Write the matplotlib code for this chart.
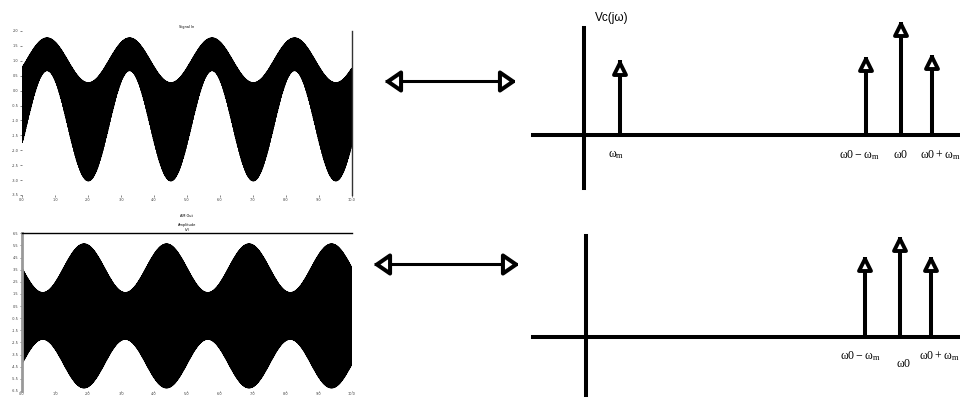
import numpy as np
import matplotlib.pyplot as plt
from matplotlib.markers import MarkerStyle
from matplotlib.path import Path
from matplotlib.transforms import offset_copy, Affine2D

W, H = 960, 398

# scope traces: time axis and tick values
t_ticks = np.arange(0, 11, 1)
top_yticks = np.arange(-3.5, 2.01, 0.5)
bot_yticks = np.arange(-6.5, 6.51, 1.0)

f_mod = 0.4      # modulating tone
f_car = 60.0     # carrier

# upper trace: tone plus modulated carrier
top_tone_amp = 1.3
top_car_amp = 1.1
top_mod_index = -0.5
top_phase = 0.76
top_dc = -0.08

# lower trace: modulated carrier only
bot_car_amp = 3.94
bot_mod_index = 0.51
bot_phase = 1.88
bot_dc = -0.31

# line spectra
top_freqs = [1.0, 7.83, 8.8, 9.66]
top_amps = [0.66, 0.69, 1.0, 0.71]
top_labels = [r'$\mathregular{ω_m}$', r'$\mathregular{ω0 - ω_m}$',
              r'$\mathregular{ω0}$', r'$\mathregular{ω0 + ω_m}$']
bot_freqs = [7.75, 8.72, 9.58]
bot_amps = [0.71, 0.885, 0.71]
bot_labels = [r'$\mathregular{ω0 - ω_m}$', r'$\mathregular{ω0}$',
              r'$\mathregular{ω0 + ω_m}$']

fig = plt.figure(figsize=(W / 100, H / 100), dpi=100)


def px_axes(x0, y0, x1, y1):
    return fig.add_axes([x0 / W, 1 - y1 / H, (x1 - x0) / W, (y1 - y0) / H])


def style_scope(ax, yticks):
    ax.set_xlim(0, 10)
    ax.set_ylim(yticks[0], yticks[-1])
    ax.set_xticks(t_ticks)
    ax.set_xticklabels(['%.1f' % v for v in t_ticks])
    ax.set_yticks(yticks)
    ax.set_yticklabels(['%.1f' % v for v in yticks])
    ax.tick_params(labelsize=2.5, labelcolor='#3a3a3a', length=1.5, width=0.5,
                   pad=1, color='#555555')


# --- time domain traces ---
t = np.linspace(0, 10, 30001)
carrier = np.sin(2 * np.pi * f_car * t)

ax1 = px_axes(22, 31, 352, 195)
mod = np.cos(2 * np.pi * f_mod * (t - top_phase))
sig1 = top_dc + top_tone_amp * mod + top_car_amp * (1 + top_mod_index * mod) * carrier
ax1.plot(t, sig1, color='black', lw=0.8)
style_scope(ax1, top_yticks)
for s in ['left', 'top', 'bottom']:
    ax1.spines[s].set_visible(False)
ax1.spines['right'].set_color('#333333')
ax1.spines['right'].set_linewidth(1.0)
ax1.set_title('Signal In', fontsize=2.5, pad=2)

ax2 = px_axes(22, 233.3, 352, 391)
mod_b = np.cos(2 * np.pi * f_mod * (t - bot_phase))
sig2 = bot_dc + bot_car_amp * (1 + bot_mod_index * mod_b) * carrier
ax2.plot(t, sig2, color='black', lw=0.8)
style_scope(ax2, bot_yticks)
ax2.tick_params(axis='x', length=0.8, pad=0.2)
for s in ['right', 'bottom']:
    ax2.spines[s].set_visible(False)
ax2.spines['top'].set_linewidth(1.0)
ax2.spines['left'].set_color('#999999')
ax2.spines['left'].set_linewidth(2.0)
ax2.set_title('AM Out\n\nAmplitude\n(V)', fontsize=2.5, pad=2, linespacing=1.2)

# --- open triangle heads ---
LW = 2.9
tri_up = MarkerStyle('^', joinstyle='round')
head_ms = 9.0
head_w = 2.8

arrow_path = Path([(-0.4, 0), (0.4, 0.55), (0.4, -0.55), (-0.4, 0)],
                  [Path.MOVETO, Path.LINETO, Path.LINETO, Path.CLOSEPOLY])
left_head = MarkerStyle(arrow_path, joinstyle='round')
right_head = MarkerStyle(arrow_path.transformed(Affine2D().scale(-1, 1)),
                         joinstyle='round')


def spectrum(ax, freqs, amps, labels, label_dx, label_dy):
    shift = offset_copy(ax.transData, fig=fig, y=-(head_ms + head_w) / 2, units='points')
    ax.vlines(freqs, 0, amps, color='black', lw=LW, zorder=2)
    ax.plot(freqs, amps, linestyle='none', marker=tri_up, ms=head_ms,
            mfc='white', mec='black', mew=head_w, transform=shift, zorder=3,
            clip_on=False)
    for f, lab, dx, dy in zip(freqs, labels, label_dx, label_dy):
        ax.text(f + dx, dy, lab, ha='center', va='center', fontsize=8.5,
                family='Liberation Serif', clip_on=False)
    ax.axis('off')


ax3 = px_axes(520, 0, 960, 200)
ax3.set_xlim(-1.778, 10.444)
ax3.set_ylim(-0.575, 1.195)
ax3.axhline(0, xmin=13 / 440, xmax=1, color='black', lw=LW, zorder=1)
ax3.axvline(0, ymin=12 / 200, ymax=172 / 200, color='black', lw=LW, zorder=1)
spectrum(ax3, top_freqs, top_amps, top_labels,
         [-0.11, -0.19, 0.0, 0.24], [-0.177] * 4)
ax3.text(0.3, 1.04, 'Vc(jω)', ha='left', va='center', fontsize=8.5,
         family='Liberation Sans')

ax4 = px_axes(520, 200, 960, 398)
ax4.set_xlim(-1.833, 10.389)
ax4.set_ylim(-0.54, 1.212)
ax4.axhline(0, xmin=13 / 440, xmax=1, color='black', lw=LW, zorder=1)
ax4.axvline(0, ymin=3 / 198, ymax=162 / 198, color='black', lw=LW, zorder=1)
spectrum(ax4, bot_freqs, bot_amps, bot_labels,
         [-0.125, 0.1, 0.25], [-0.168, -0.24, -0.168])

# --- double arrows linking each trace to its spectrum ---
dbl_ms = 13.0
dbl_mew = 2.9
half = 0.4 / 1.1 * dbl_ms + dbl_mew / 2
for x0, x1, yc in [(385, 515, 80.7), (374, 518, 264)]:
    ax = px_axes(x0, yc - 15, x1, yc + 15)
    ax.set_xlim(0, 1)
    ax.set_ylim(-1, 1)
    ax.plot([0, 1], [0, 0], color='black', lw=2.2, solid_capstyle='butt', zorder=1)
    ax.plot([0], [0], linestyle='none', marker=left_head, ms=dbl_ms, mfc='white',
            mec='black', mew=dbl_mew, zorder=2, clip_on=False,
            transform=offset_copy(ax.transData, fig=fig, x=half, units='points'))
    ax.plot([1], [0], linestyle='none', marker=right_head, ms=dbl_ms, mfc='white',
            mec='black', mew=dbl_mew, zorder=2, clip_on=False,
            transform=offset_copy(ax.transData, fig=fig, x=-half, units='points'))
    ax.axis('off')

fig.savefig('out.png', dpi=100, facecolor='white')
